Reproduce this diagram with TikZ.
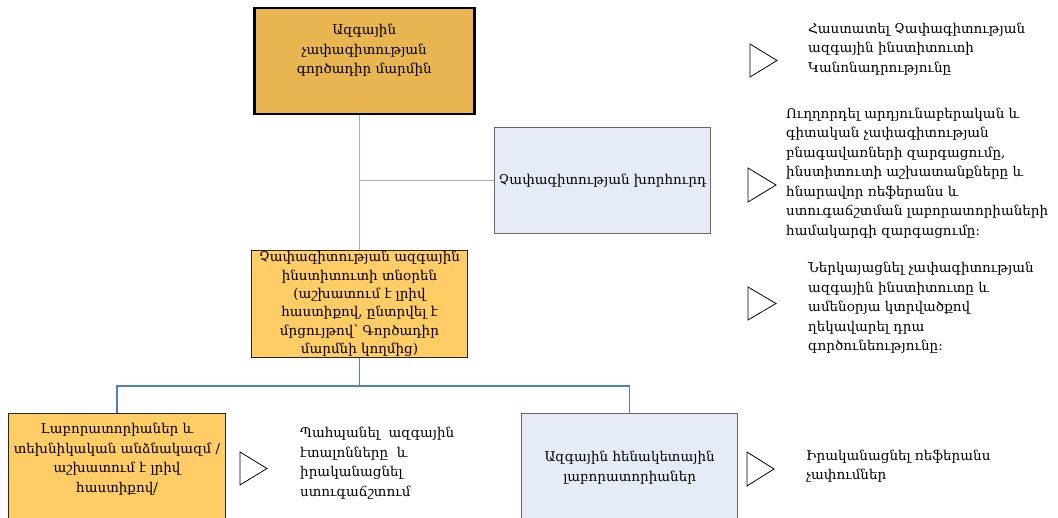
\documentclass[tikz,border=0pt]{standalone}
\usepackage{fontspec}
\setmainfont{DejaVu Serif}
\definecolor{goldfill}{RGB}{232,181,80}
\definecolor{orangefill}{RGB}{255,204,102}
\definecolor{palefill}{RGB}{230,236,247}
\definecolor{lightconn}{RGB}{149,179,215}
\definecolor{darkconn}{RGB}{79,129,189}
\begin{document}
\begin{tikzpicture}[x=1pt,y=-1pt,
  txtfont/.style={font=\fontsize{13.5}{19.5}\selectfont},
  boxbase/.style={align=center, inner sep=0pt, anchor=north west, txtfont},
  goldbox/.style={boxbase, fill=goldfill, draw=black, line width=2.5pt},
  orangebox/.style={boxbase, fill=orangefill, draw=black!85, line width=1pt},
  palebox/.style={boxbase, fill=palefill, draw=black!60, line width=1.2pt},
  freetext/.style={align=left, inner sep=0pt, anchor=west, txtfont},
  bullet/.style={draw=black, line width=0.8pt, line join=miter},
  upconn/.style={draw=lightconn, line width=1.5pt},
  lowconn/.style={draw=darkconn, line width=1.2pt}]
\useasboundingbox (0,0) rectangle (1058,518);

% boxes
\node[goldbox, minimum width=220pt, minimum height=106pt] (b1) at (253,7)
  {Ազգային\\չափագիտության\\գործադիր մարմին\\[5pt]\mbox{}};
\node[palebox, minimum width=216pt, minimum height=106pt] (b2) at (494,127)
  {Չափագիտության խորհուրդ};
\node[orangebox, minimum width=216pt, minimum height=107pt,
      font=\fontsize{13.5}{18.4}\selectfont] (b3) at (251,250)
  {Չափագիտության ազգային\\ինստիտուտի տնօրեն\\(աշխատում է լրիվ\\հաստիքով, ընտրվել է\\մրցույթով՝ Գործադիր\\մարմնի կողմից)};
\node[orangebox, minimum width=217pt, minimum height=108pt] (b4) at (8,413)
  {Լաբորատորիաներ և\\տեխնիկական անձնակազմ /\\աշխատում է լրիվ\\հաստիքով/\\\mbox{}};
\node[palebox, minimum width=216pt, minimum height=108pt] (b5) at (521,413)
  {Ազգային հենակետային\\լաբորատորիաներ};

% connectors
\draw[upconn] (b1.south -| b3.north) -- (b3.north);
\draw[upconn] (b2.west -| b3.north) -- (b2.west);
\coordinate (split) at (b3.south |- 0,386);
\draw[lowconn] (b3.south) -- (split) -| (b4.north);
\draw[lowconn] (split) -| (b5.north);

% bullets
\draw[bullet] (750,44) -- (777,60.5) -- (750,77) -- cycle;
\draw[bullet] (748,168) -- (776,185) -- (748,202) -- cycle;
\draw[bullet] (748,287) -- (776,303.5) -- (748,320) -- cycle;
\draw[bullet] (240,452) -- (267,468.5) -- (240,485) -- cycle;
\draw[bullet] (747,452) -- (774,469) -- (747,486) -- cycle;

% texts
\node[freetext] (t1) at (808,49)
  {Հաստատել Չափագիտության\\ազգային ինստիտուտի\\Կանոնադրությունը};
\node[freetext] (t2) at (786,173)
  {Ուղղորդել արդյունաբերական և\\գիտական չափագիտության\\բնագավառների զարգացումը,\\ինստիտուտի աշխատանքները և\\հնարավոր ռեֆերանս և\\ստուգաճշտման լաբորատորիաների\\համակարգի զարգացումը:};
\node[freetext] (t3) at (808,308)
  {Ներկայացնել չափագիտության\\ազգային ինստիտուտը և\\ամենօրյա կտրվածքով\\ղեկավարել դրա\\գործունեությունը:};
\node[freetext] (t4) at (300,463)
  {Պահպանել~ ազգային\\էտալոնները~ և\\իրականացնել\\ստուգաճշտում};
\node[freetext] (t5) at (806,466)
  {Իրականացնել ռեֆերանս\\չափումներ};
\end{tikzpicture}
\end{document}
